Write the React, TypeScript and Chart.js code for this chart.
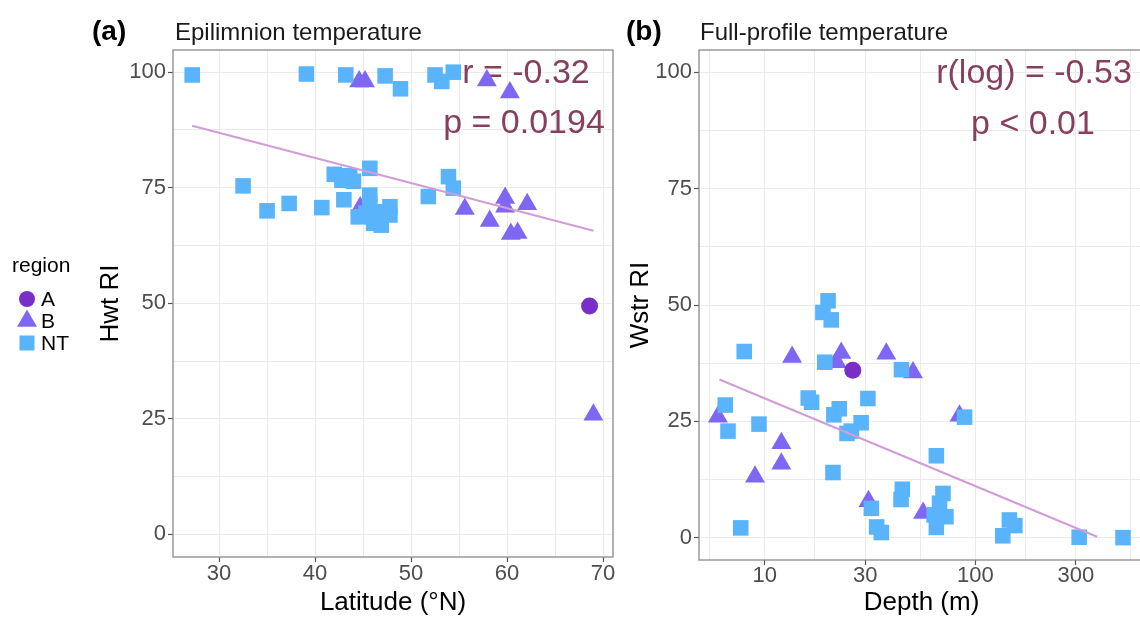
import React, { useEffect, useRef } from 'react';
import { Chart, registerables } from 'chart.js';

Chart.register(...registerables);

const FONT = '"Liberation Sans", Arial, Helvetica, sans-serif';
const COLOR_A = '#7a2ec8';
const COLOR_B = '#7f67f3';
const COLOR_NT = '#5ab4fb';
const COLOR_FIT = '#d19cd8';
const COLOR_STAT = '#873e5f';

// ---------- Panel (a): Epilimnion temperature ----------
const aLatA = [68.6];
const aHwtA = [49.4];
const aLatB = [44.6, 45.2, 57.9, 60.3, 44.7, 55.6, 58.2, 59.8, 59.8, 62.1, 60.4, 61.1, 69.0];
const aHwtB = [98.0, 98.0, 98.2, 95.6, 70.7, 70.4, 67.8, 72.8, 70.9, 71.4, 65.0, 65.2, 25.9];
const aLatNT = [27.2, 39.1, 43.2, 47.3, 48.9, 52.5, 53.2, 54.4, 32.5, 35.0, 37.3, 40.7, 42.0, 42.8, 43.6, 44.0, 43.0, 45.7, 45.7, 45.7, 44.5, 46.1, 46.9, 47.8, 47.8, 46.8, 45.3, 51.8, 53.9, 54.4];
const aHwtNT = [99.4, 99.6, 99.4, 99.2, 96.4, 99.4, 98.0, 100.0, 75.4, 70.0, 71.6, 70.7, 77.9, 76.6, 77.6, 76.4, 72.4, 79.2, 73.4, 71.5, 68.7, 67.3, 66.9, 70.9, 69.1, 69.8, 69.5, 73.1, 77.4, 74.9];
const aFitLat = [27.2, 69.0];
const aFitHwt = [88.4, 65.7];
const aXMajor = [30, 40, 50, 60, 70];
const aXMinor = [35, 45, 55, 65];
const aXLabels = ['30', '40', '50', '60', '70'];
const yMajor = [0, 25, 50, 75, 100];
const yMinor = [12.5, 37.5, 62.5, 87.5];
const yLabels = ['0', '25', '50', '75', '100'];

// ---------- Panel (b): Full-profile temperature ----------
const bDepthA = [26.2];
const bWstrA = [36.0];
const bDepthB = [13.5, 23.1, 22.0, 37.8, 50.6, 6.0, 12.0, 12.0, 9.0, 31.1, 56.5, 84.1];
const bWstrB = [38.8, 39.7, 37.7, 39.5, 35.5, 26.0, 20.3, 15.9, 13.1, 7.8, 5.3, 26.2];
const bDepthNT = [20.0, 18.9, 20.7, 8.0, 19.3, 44.6, 6.5, 16.1, 16.7, 30.9, 22.6, 21.3, 88.9, 9.4, 28.7, 6.7, 25.8, 24.6, 65.3, 21.1, 45.0, 44.4, 70.2, 67.6, 32.1, 72.5, 63.7, 65.3, 34.0, 35.8, 7.7, 145, 154, 135, 311, 502];
const bWstrNT = [50.9, 48.4, 46.8, 40.0, 37.7, 36.1, 28.5, 30.0, 29.1, 29.9, 27.7, 26.4, 25.9, 24.4, 24.7, 22.9, 22.9, 22.4, 17.6, 14.0, 10.4, 8.2, 9.5, 7.4, 6.3, 4.5, 4.9, 2.2, 2.3, 1.1, 2.1, 3.8, 2.6, 0.4, 0.1, 0.0];
const bFitDepth = [6.1, 378];
const bFitWstr = [34.0, 0.2];
const bXMajor = [10, 30, 100, 300];
const bXMinor = [5.477, 17.32, 54.77, 173.2, 547.7];
const bXLabels = ['10', '30', '100', '300'];

const pts = (xs: number[], ys: number[]) => xs.map((x, i) => ({ x, y: ys[i] }));

function axis(type: string, min: number, max: number, major: number[], minor: number[], labels: string[], size: number, isX: boolean, pad: number) {
  const all = [...major, ...minor].sort((a, b) => a - b);
  return {
    type,
    min,
    max,
    afterBuildTicks: (s: any) => {
      s.ticks = all.map((v) => ({ value: v }));
    },
    afterFit: (s: any) => {
      if (isX) s.height = size;
      else s.width = size;
    },
    grid: {
      color: '#ebebeb',
      lineWidth: 1,
      drawTicks: true,
      tickLength: 5,
      tickWidth: 1.2,
      tickColor: (c: any) => (c.tick && major.includes(c.tick.value) ? '#555555' : 'rgba(0,0,0,0)'),
    },
    border: { display: false },
    ticks: {
      autoSkip: false,
      maxRotation: 0,
      minRotation: 0,
      padding: pad,
      color: '#4d4d4d',
      font: { family: FONT, size: 22 },
      callback: (value: any) => {
        const i = major.indexOf(Number(value));
        return i >= 0 ? labels[i] : '';
      },
    },
  };
}

function pointSets(xA: number[], yA: number[], xB: number[], yB: number[], xN: number[], yN: number[], fx: number[], fy: number[]) {
  return [
    {
      type: 'line',
      data: pts(fx, fy),
      borderColor: COLOR_FIT,
      borderWidth: 2,
      pointRadius: 0,
      showLine: true,
      fill: false,
      order: 0,
    },
    {
      data: pts(xN, yN),
      pointStyle: 'rect',
      pointRadius: 11,
      backgroundColor: COLOR_NT,
      pointBackgroundColor: COLOR_NT,
      pointBorderWidth: 0,
      borderWidth: 0,
      order: 1,
    },
    {
      data: pts(xA, yA),
      pointStyle: 'circle',
      pointRadius: 8.5,
      backgroundColor: COLOR_A,
      pointBackgroundColor: COLOR_A,
      pointBorderWidth: 0,
      borderWidth: 0,
      order: 2,
    },
    {
      data: pts(xB, yB),
      pointStyle: 'triangle',
      pointRadius: 11.5,
      backgroundColor: COLOR_B,
      pointBackgroundColor: COLOR_B,
      pointBorderWidth: 0,
      borderWidth: 0,
      order: 3,
    },
  ];
}

type TextSpec = {
  tag: string; tagX: number; title: string; titleX: number;
  xTitle: string; yTitle: string; yTitleX: number;
  stats: { text: string; x: number; y: number }[];
  legend: boolean;
};

function textPlugin(spec: TextSpec) {
  return {
    id: 'panelText',
    beforeDatasetsDraw(chart: any) {
      const ctx = chart.ctx;
      ctx.save();
      ctx.fillStyle = COLOR_STAT;
      ctx.font = `34px ${FONT}`;
      ctx.textAlign = 'center';
      ctx.textBaseline = 'alphabetic';
      spec.stats.forEach((s) => ctx.fillText(s.text, s.x, s.y));
      ctx.restore();
    },
    afterDatasetsDraw(chart: any) {
      const { ctx, chartArea } = chart;
      ctx.save();
      ctx.strokeStyle = '#8a8a8a';
      ctx.lineWidth = 1.3;
      ctx.strokeRect(chartArea.left, chartArea.top, chartArea.right - chartArea.left, chartArea.bottom - chartArea.top);
      ctx.restore();
    },
    afterDraw(chart: any) {
      const { ctx, chartArea } = chart;
      ctx.save();
      ctx.fillStyle = '#000';
      ctx.textBaseline = 'alphabetic';
      ctx.textAlign = 'left';
      ctx.font = `bold 28px ${FONT}`;
      ctx.fillText(spec.tag, spec.tagX, 40);
      ctx.fillStyle = '#1a1a1a';
      ctx.font = `24px ${FONT}`;
      ctx.fillText(spec.title, spec.titleX, 40);
      ctx.fillStyle = '#000';
      ctx.font = `26px ${FONT}`;
      ctx.textAlign = 'center';
      ctx.fillText(spec.xTitle, (chartArea.left + chartArea.right) / 2, 610);
      ctx.save();
      ctx.translate(spec.yTitleX, (chartArea.top + chartArea.bottom) / 2);
      ctx.rotate(-Math.PI / 2);
      ctx.textBaseline = 'middle';
      ctx.fillText(spec.yTitle, 0, 0);
      ctx.restore();
      if (spec.legend) {
        ctx.textAlign = 'left';
        ctx.textBaseline = 'alphabetic';
        ctx.font = `21px ${FONT}`;
        ctx.fillText('region', 12, 272);
        ctx.fillStyle = COLOR_A;
        ctx.beginPath();
        ctx.arc(27, 299, 8, 0, Math.PI * 2);
        ctx.fill();
        const r = 11.5;
        ctx.fillStyle = COLOR_B;
        ctx.beginPath();
        ctx.moveTo(27, 321 - r);
        ctx.lineTo(27 + r * 0.866, 321 + r * 0.5);
        ctx.lineTo(27 - r * 0.866, 321 + r * 0.5);
        ctx.closePath();
        ctx.fill();
        ctx.fillStyle = COLOR_NT;
        ctx.fillRect(27 - 7.5, 343 - 7.5, 15, 15);
        ctx.fillStyle = '#000';
        ctx.textBaseline = 'middle';
        ctx.fillText('A', 41, 300);
        ctx.fillText('B', 41, 322);
        ctx.fillText('NT', 41, 344);
      }
      ctx.restore();
    },
  };
}

export default function App() {
  const refA = useRef<HTMLCanvasElement>(null);
  const refB = useRef<HTMLCanvasElement>(null);

  useEffect(() => {
    const common = {
      animation: false,
      responsive: false,
      maintainAspectRatio: false,
      events: [],
      plugins: { legend: { display: false }, tooltip: { enabled: false } },
    };
    const chartA = new Chart(refA.current as HTMLCanvasElement, {
      type: 'scatter',
      data: { datasets: pointSets(aLatA, aHwtA, aLatB, aHwtB, aLatNT, aHwtNT, aFitLat, aFitHwt) as any },
      options: {
        ...common,
        layout: { autoPadding: false, padding: { left: 0, right: 7, top: 50, bottom: 0 } },
        scales: {
          x: axis('linear', 25.2, 71.04, aXMajor, aXMinor, aXLabels, 60, true, -1),
          y: axis('linear', -4.9, 104.8, yMajor, yMinor, yLabels, 173, false, 2),
        },
      } as any,
      plugins: [
        textPlugin({
          tag: '(a)', tagX: 92, title: 'Epilimnion temperature', titleX: 175,
          xTitle: 'Latitude (°N)', yTitle: 'Hwt RI', yTitleX: 111,
          stats: [
            { text: 'r = -0.32', x: 526, y: 83 },
            { text: 'p = 0.0194', x: 524, y: 133 },
          ],
          legend: true,
        }),
      ],
    });
    const chartB = new Chart(refB.current as HTMLCanvasElement, {
      type: 'scatter',
      data: { datasets: pointSets(bDepthA, bWstrA, bDepthB, bWstrB, bDepthNT, bWstrNT, bFitDepth, bFitWstr) as any },
      options: {
        ...common,
        layout: { autoPadding: false, padding: { left: 0, right: 0, top: 50, bottom: 0 } },
        scales: {
          x: axis('logarithmic', 4.88, 631.6, bXMajor, bXMinor, bXLabels, 57, true, -2),
          y: axis('linear', -4.8, 104.8, yMajor, yMinor, yLabels, 79, false, 2),
        },
      } as any,
      plugins: [
        textPlugin({
          tag: '(b)', tagX: 6, title: 'Full-profile temperature', titleX: 80,
          xTitle: 'Depth (m)', yTitle: 'Wstr RI', yTitleX: 21,
          stats: [
            { text: 'r(log) = -0.53', x: 414, y: 83 },
            { text: 'p < 0.01', x: 413, y: 134 },
          ],
          legend: false,
        }),
      ],
    });
    return () => {
      chartA.destroy();
      chartB.destroy();
    };
  }, []);

  return (
    <div style={{ position: 'absolute', left: 0, top: 0, width: 1140, height: 617, overflow: 'hidden', background: '#fff' }}>
      <canvas ref={refA} width={620} height={617} style={{ position: 'absolute', left: 0, top: 0 }} />
      <canvas ref={refB} width={524} height={617} style={{ position: 'absolute', left: 620, top: 0 }} />
    </div>
  );
}
